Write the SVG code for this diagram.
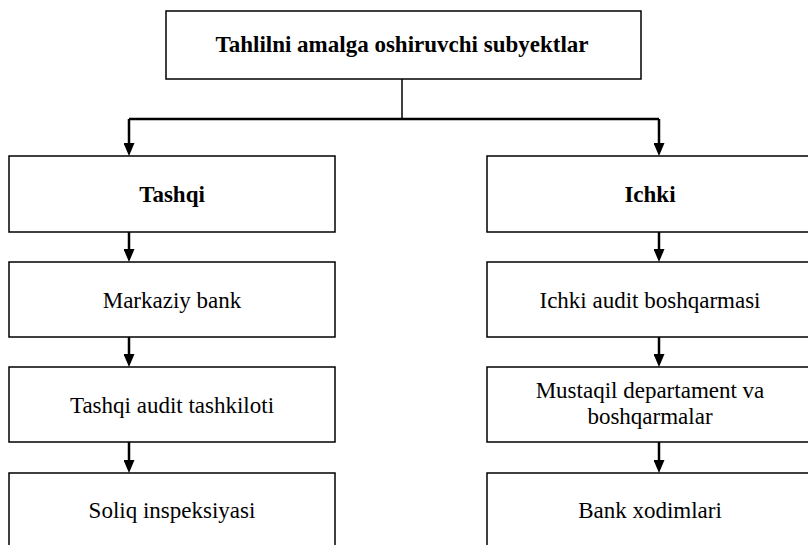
<svg xmlns="http://www.w3.org/2000/svg" width="808" height="545" viewBox="0 0 808 545">
<style>
.box{fill:#fff;stroke:#000;stroke-width:1.5}
.t{font-family:"Liberation Serif","Times New Roman",serif;font-size:23px;fill:#000;text-anchor:middle}
.b{font-weight:bold}
.c{fill:none;stroke:#000;stroke-width:2.5}
.thin{fill:none;stroke:#000;stroke-width:1.5}
</style>
<defs>
<marker id="ah" markerUnits="userSpaceOnUse" viewBox="0 0 13 11" refX="9" refY="5.5" markerWidth="13" markerHeight="11" orient="auto">
<path d="M0,0 L13,5.5 L0,11 z" fill="#000"/>
</marker>
</defs>
<rect width="808" height="545" fill="#fff"/>
<g id="connectors">
<path class="thin" d="M402,79 V119"/>
<path class="c" d="M129,119 H659"/>
<path class="c" d="M129,119 V152" marker-end="url(#ah)"/>
<path class="c" d="M659,119 V152" marker-end="url(#ah)"/>
<path class="c" d="M129,232 V258" marker-end="url(#ah)"/>
<path class="c" d="M129,337 V363" marker-end="url(#ah)"/>
<path class="c" d="M129,442 V469" marker-end="url(#ah)"/>
<path class="c" d="M659,232 V258" marker-end="url(#ah)"/>
<path class="c" d="M659,337 V363" marker-end="url(#ah)"/>
<path class="c" d="M659,442 V469" marker-end="url(#ah)"/>
</g>
<g id="root">
<rect class="box" x="166" y="11" width="475" height="68"/>
<text class="t b" x="402" y="52">Tahlilni amalga oshiruvchi subyektlar</text>
</g>
<g id="tashqi">
<rect class="box" x="9" y="156" width="326" height="76"/>
<text class="t b" x="172" y="202">Tashqi</text>
</g>
<g id="ichki">
<rect class="box" x="487" y="156" width="326" height="76"/>
<text class="t b" x="650" y="202">Ichki</text>
</g>
<g id="markaziy">
<rect class="box" x="9" y="262" width="326" height="75"/>
<text class="t" x="172" y="308">Markaziy bank</text>
</g>
<g id="tashqi-audit">
<rect class="box" x="9" y="367" width="326" height="75"/>
<text class="t" x="172" y="413">Tashqi audit tashkiloti</text>
</g>
<g id="soliq">
<rect class="box" x="9" y="473" width="326" height="76"/>
<text class="t" x="172" y="518">Soliq inspeksiyasi</text>
</g>
<g id="ichki-audit">
<rect class="box" x="487" y="262" width="326" height="75"/>
<text class="t" x="650" y="308">Ichki audit boshqarmasi</text>
</g>
<g id="mustaqil">
<rect class="box" x="487" y="367" width="326" height="75"/>
<text class="t" x="650" y="398">Mustaqil departament va</text>
<text class="t" x="650" y="424">boshqarmalar</text>
</g>
<g id="bank-xodimlari">
<rect class="box" x="487" y="473" width="326" height="76"/>
<text class="t" x="650" y="518">Bank xodimlari</text>
</g>
</svg>
